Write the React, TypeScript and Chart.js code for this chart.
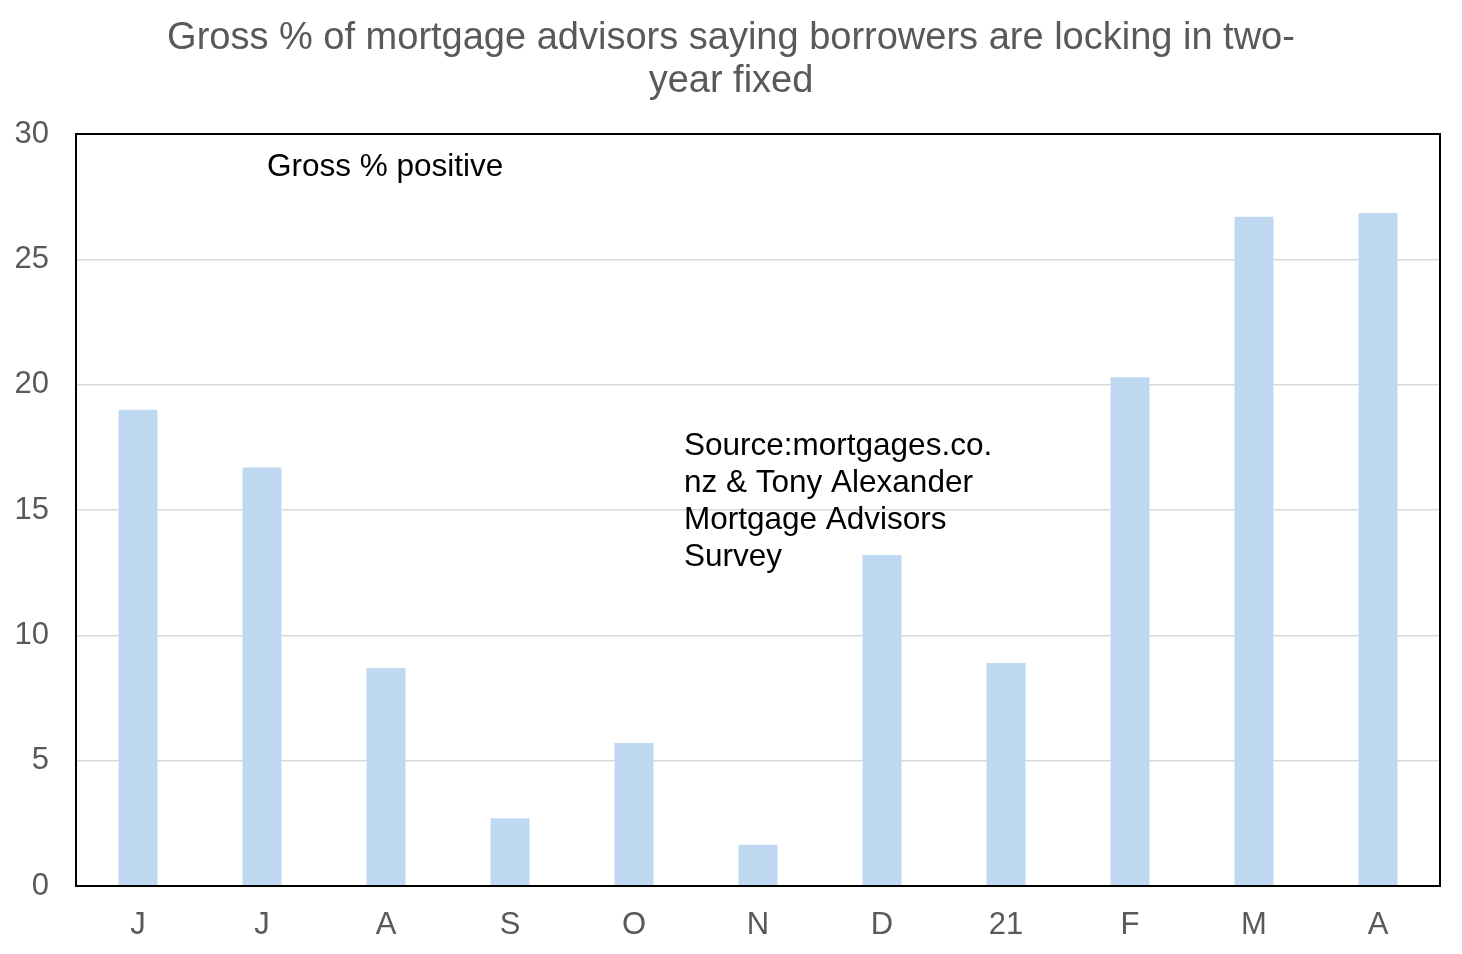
import { useEffect, useRef } from 'react';
import { Chart, registerables } from 'chart.js';

Chart.register(...registerables);

const months = ['J', 'J', 'A', 'S', 'O', 'N', 'D', '21', 'F', 'M', 'A'];
const grossPositive = [19.0, 16.7, 8.7, 2.7, 5.7, 1.65, 13.2, 8.9, 20.3, 26.7, 26.85];
const titleLines = ['Gross % of mortgage advisors saying borrowers are locking in two-', 'year fixed'];
const seriesNote = 'Gross % positive';
const sourceLines = ['Source:mortgages.co.', 'nz & Tony Alexander', 'Mortgage Advisors', 'Survey'];

const FONT = "'Liberation Sans', Arial, sans-serif";

const decorPlugin = {
  id: 'decor',
  afterDraw(chart: Chart) {
    const { ctx, chartArea } = chart;
    ctx.save();
    // frame round the plot
    ctx.strokeStyle = '#000';
    ctx.lineWidth = 2;
    ctx.strokeRect(chartArea.left, chartArea.top, chartArea.right - chartArea.left, chartArea.bottom - chartArea.top);

    // title
    ctx.fillStyle = '#595959';
    ctx.font = `38px ${FONT}`;
    ctx.textAlign = 'center';
    ctx.textBaseline = 'middle';
    ctx.fillText(titleLines[0], 731, 39);
    ctx.fillText(titleLines[1], 731, 82);

    // notes inside the plot
    ctx.fillStyle = '#000';
    ctx.font = `31.5px ${FONT}`;
    ctx.textAlign = 'left';
    ctx.fillText(seriesNote, 267, 167);
    sourceLines.forEach((line, i) => ctx.fillText(line, 684, 446 + i * 37));
    ctx.restore();
  },
};

export default function App() {
  const canvasRef = useRef<HTMLCanvasElement>(null);
  const chartRef = useRef<Chart | null>(null);

  useEffect(() => {
    document.body.style.margin = '0';
    if (!canvasRef.current) return;
    chartRef.current?.destroy();

    chartRef.current = new Chart(canvasRef.current, {
      type: 'bar',
      data: {
        labels: months,
        datasets: [{
          label: seriesNote,
          data: grossPositive,
          backgroundColor: '#c0d9f2',
          borderWidth: 0,
          barPercentage: 0.315,
          categoryPercentage: 1,
        }],
      },
      options: {
        responsive: true,
        maintainAspectRatio: false,
        animation: false,
        layout: { padding: { top: 134, right: 22, left: 0, bottom: 0 } },
        plugins: {
          legend: { display: false },
          title: { display: false },
          tooltip: { enabled: false },
        },
        scales: {
          x: {
            grid: { display: false },
            border: { display: false },
            ticks: { color: '#595959', font: { size: 31, family: FONT }, padding: 13, maxRotation: 0 },
            afterFit: (scale) => { scale.height = 68; },
          },
          y: {
            min: 0,
            max: 30,
            grid: { color: '#d9d9d9', lineWidth: 1.5, drawTicks: false },
            border: { display: false },
            ticks: { stepSize: 5, color: '#595959', font: { size: 31, family: FONT }, padding: 27 },
            afterFit: (scale) => { scale.width = 76; },
          },
        },
      },
      plugins: [decorPlugin],
    });

    return () => { chartRef.current?.destroy(); };
  }, []);

  return (
    <div style={{ width: 1462, height: 954, position: 'relative', background: '#fff' }}>
      <canvas ref={canvasRef} />
    </div>
  );
}
